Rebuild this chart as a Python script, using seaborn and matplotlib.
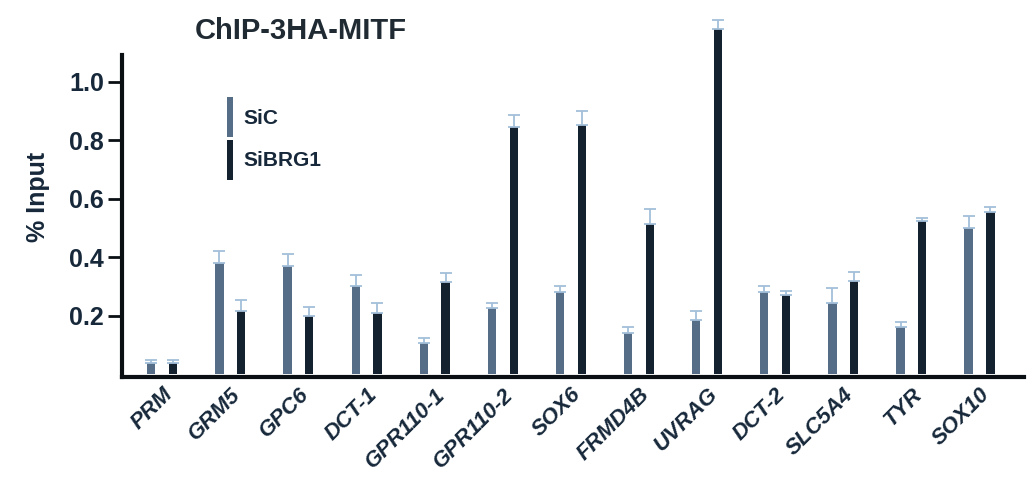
import pandas as pd
import seaborn as sns
import matplotlib.pyplot as plt

# valores (% input)
genes = ["PRM", "GRM5", "GPC6", "DCT-1", "GPR110-1", "GPR110-2", "SOX6",
         "FRMD4B", "UVRAG", "DCT-2", "SLC5A4", "TYR", "SOX10"]
sic = [0.04, 0.38, 0.37, 0.30, 0.105, 0.225, 0.28, 0.14, 0.185, 0.28, 0.245, 0.16, 0.50]
sibrg1 = [0.04, 0.215, 0.20, 0.21, 0.315, 0.845, 0.85, 0.515, 1.18, 0.27, 0.32, 0.525, 0.553]
sic_err = [0.01, 0.04, 0.04, 0.04, 0.02, 0.02, 0.02, 0.02, 0.03, 0.02, 0.05, 0.02, 0.04]
sibrg1_err = [0.01, 0.04, 0.03, 0.035, 0.03, 0.04, 0.05, 0.05, 0.03, 0.015, 0.03, 0.01, 0.02]
grupos = ["SiC", "SiBRG1"]

df = pd.DataFrame({
    "gen": genes * 2,
    "input": sic + sibrg1,
    "grupo": [grupos[0]] * len(genes) + [grupos[1]] * len(genes),
})
errores = {grupos[0]: sic_err, grupos[1]: sibrg1_err}

colores = {"SiC": "#4d6d8e", "SiBRG1": "#0f2133"}
color_err = "#a3bfda"
color_texto = "#16283a"

plt.rcParams["font.family"] = ["Liberation Sans", "DejaVu Sans"]
fig = plt.figure(figsize=(10.29, 4.78), dpi=100)
ax = fig.add_axes([0.1186, 0.211, 0.877, 0.753])

sns.barplot(data=df, x="gen", y="input", hue="grupo", hue_order=grupos,
            order=genes, palette=colores, width=0.64, gap=0.62,
            errorbar=None, ax=ax)

# barras de error solo hacia arriba
for cont, g in zip(ax.containers, grupos):
    xs = [p.get_x() + p.get_width() / 2 for p in cont.patches]
    ys = [p.get_height() for p in cont.patches]
    err = errores[g]
    ax.errorbar(xs, ys, yerr=[[0] * len(err), err], fmt="none",
                ecolor=color_err, elinewidth=1.3, capsize=4, capthick=1.3, zorder=1)

ax.set_ylim(-0.01, 1.22)
ax.set_xlim(-0.59, len(genes) - 1 + 0.66)
ax.set_yticks([0.2, 0.4, 0.6, 0.8, 1.0])
ax.set_yticklabels(["0.2", "0.4", "0.6", "0.8", "1.0"])
ax.spines["left"].set_bounds(-0.01, 1.09)
ax.spines["top"].set_visible(False)
ax.spines["right"].set_visible(False)
for s in ["left", "bottom"]:
    ax.spines[s].set_linewidth(3)
    ax.spines[s].set_color("#0a0f14")

ax.tick_params(axis="y", length=10, width=2, color="#0a0f14", labelsize=18,
               labelcolor=color_texto, pad=3)
ax.tick_params(axis="x", length=0, labelsize=16, labelcolor=color_texto, pad=5)
for t in ax.get_yticklabels():
    t.set_fontweight("bold")
for t in ax.get_xticklabels():
    t.set_fontweight("bold")
    t.set_fontstyle("italic")
    t.set_rotation(45)
    t.set_ha("right")
    t.set_rotation_mode("anchor")

ax.set_xlabel("")
ax.set_ylabel("% Input", fontsize=18, fontweight="bold", color=color_texto, labelpad=14)

handles, labels = ax.get_legend_handles_labels()
ax.legend(handles, labels, loc="upper left", bbox_to_anchor=(0.095, 0.83),
          frameon=False, handlelength=0.3, handleheight=2.6, handletextpad=0.5,
          labelspacing=0.1, prop={"weight": "bold", "size": 15},
          labelcolor=color_texto)

fig.text(0.292, 0.935, "ChIP-3HA-MITF", fontsize=21, fontweight="bold",
         color="#1f2a33", ha="center", va="center")

fig.savefig("out.png", dpi=100)
